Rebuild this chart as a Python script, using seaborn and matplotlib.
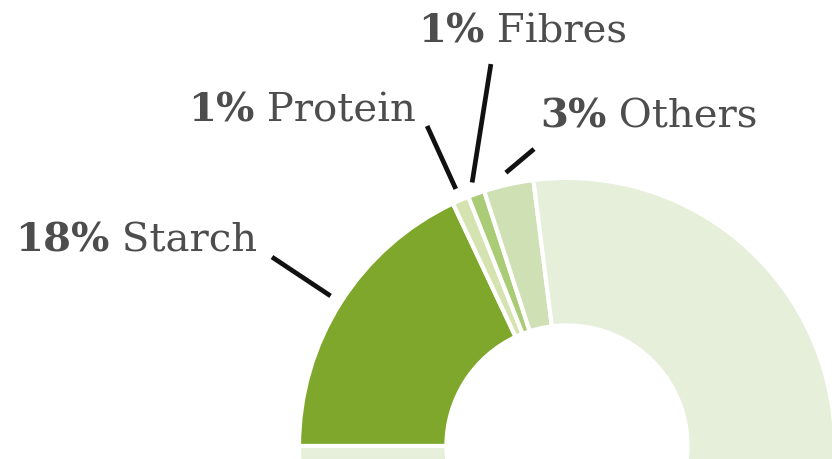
import numpy as np
import matplotlib
matplotlib.use("Agg")
import matplotlib.pyplot as plt
import seaborn as sns

# composition of the potato (share in %)
categories = ["Starch", "Protein", "Fibres", "Others", "Water"]
shares = [18, 1, 1, 3, 77]
label_text = ["18%", "1%", "1%", "3%", None]

colors = ["#7ea72b", "#d4e3b0", "#aacc77", "#cfe1b4", "#e6efd9"]

# label layout (donut radius = 1, centre at origin)
label_pos = {
    "Starch": (-2.06, 0.724),
    "Protein": (-1.414, 1.209),
    "Fibres": (-0.556, 1.504),
    "Others": (-0.101, 1.190),
}
leader_end = {
    "Starch": (-1.101, 0.705),
    "Protein": (-0.522, 1.194),
    "Fibres": (-0.284, 1.425),
    "Others": (-0.123, 1.108),
}

sns.set_theme(style="white")
plt.rcParams["font.family"] = ["DejaVu Serif"]

fig = plt.figure(figsize=(8.32, 4.59), dpi=100)
ax = fig.add_axes([0, 0, 1, 1])

wedges, _ = ax.pie(shares, colors=colors, startangle=180, counterclock=False,
                   radius=1, wedgeprops=dict(width=0.55, edgecolor="white", linewidth=3))

ax.set_xlim(-2.116, 0.989)
ax.set_ylim(-0.0485, 1.664)
ax.set_aspect("auto")
ax.axis("off")

renderer = fig.canvas.get_renderer()
txt_col = "#4d4d4d"
fs = 29
for w, cat, pct in zip(wedges, categories, label_text):
    if pct is None:
        continue
    mid = np.deg2rad((w.theta1 + w.theta2) / 2)
    r0 = 1.045
    ax.plot([r0 * np.cos(mid), leader_end[cat][0]], [r0 * np.sin(mid), leader_end[cat][1]],
            color="#111111", lw=3.4, solid_capstyle="butt")
    x, y = label_pos[cat]
    t = ax.text(x, y, pct, fontsize=fs, fontweight="bold", color=txt_col,
                ha="left", va="baseline")
    bb = t.get_window_extent(renderer).transformed(ax.transData.inverted())
    ax.text(bb.x1, y, " " + cat, fontsize=fs, color=txt_col, ha="left", va="baseline")

fig.savefig("out.png", dpi=100, facecolor="white")
